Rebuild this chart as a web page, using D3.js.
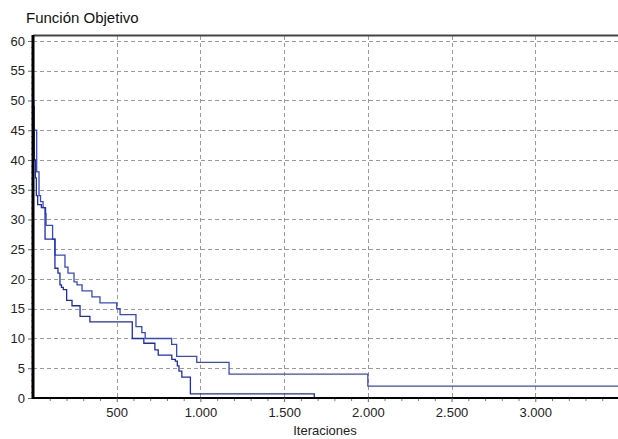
<!DOCTYPE html>
<html>
<head>
<meta charset="utf-8">
<script src="https://cdn.jsdelivr.net/npm/d3@7"></script>
<style>
  body { margin: 0; background: #fff; }
  svg { display: block; font-family: "Liberation Sans", Arial, sans-serif; }
</style>
</head>
<body>
<svg id="chart" width="618" height="439"></svg>
<script>
// [iteracion, valor] pairs
const serieA = [[0,54],[3,49],[8,45],[22,38],[36,34],[45,33],[60,32],[75,31],[78,29],[117,26.7],[131,24],[191,22],[209,21],[245,19.5],[263,19],[293,18],[352,17],[400,16],[500,15],[520,14],[615,12],[650,11],[670,10],[828,9],[858,7],[978,6],[1171,4],[2000,2],[3600,2]];
const serieB = [[0,50],[4,45],[8,40],[14,37],[20,34],[28,32.5],[50,32],[72,26.7],[131,21.8],[149,21],[161,19],[170,18.6],[181,18.2],[201,16.4],[233,15.5],[281,13.7],[340,12.8],[593,10],[662,9.2],[728,8.1],[748,7.2],[829,6.5],[850,6.2],[862,5.4],[872,4.5],[889,3.5],[940,0.7],[1680,0]];
const yTicks = [0,5,10,15,20,25,30,35,40,45,50,55,60];
const xTicks = [500,1000,1500,2000,2500,3000];

const svg = d3.select("#chart");

const x = d3.scaleLinear().domain([0, 3500]).range([33, 619]);
const y = d3.scaleLinear().domain([0, 61]).range([398, 35]);

const fmt = v => d3.format(",")(v).replace(/,/g, ".");

// grid lines
svg.append("g")
    .selectAll("line")
    .data(yTicks)
    .join("line")
    .attr("x1", 33).attr("x2", 618)
    .attr("y1", d => Math.round(y(d)) + 0.5)
    .attr("y2", d => Math.round(y(d)) + 0.5)
    .attr("stroke", "#9a9a9a")
    .attr("stroke-dasharray", "4,3");

svg.append("g")
    .selectAll("line")
    .data(xTicks)
    .join("line")
    .attr("x1", d => Math.round(x(d)) + 0.5)
    .attr("x2", d => Math.round(x(d)) + 0.5)
    .attr("y1", 36).attr("y2", 398)
    .attr("stroke", "#9a9a9a")
    .attr("stroke-dasharray", "4,3");

// top border
svg.append("line")
    .attr("x1", 33).attr("x2", 618)
    .attr("y1", 35.5).attr("y2", 35.5)
    .attr("stroke", "#444")
    .attr("stroke-width", 2);

// step lines
const line = d3.line()
    .x(d => x(d[0]))
    .y(d => y(d[1]))
    .curve(d3.curveStepAfter);

svg.append("path")
    .datum(serieA)
    .attr("d", line)
    .attr("fill", "none")
    .attr("stroke", "#3848c4")
    .attr("stroke-width", 1.3);

svg.append("path")
    .datum(serieB)
    .attr("d", line)
    .attr("fill", "none")
    .attr("stroke", "#1c2db0")
    .attr("stroke-width", 1.3);

// y axis
const yAxis = svg.append("g")
    .attr("transform", "translate(33,0)")
    .call(d3.axisLeft(y).tickValues(yTicks).tickSize(5).tickPadding(3));
yAxis.select(".domain").remove();
yAxis.selectAll("text").attr("font-size", 13).attr("font-family", "Liberation Sans, Arial, sans-serif").attr("fill", "#222");
yAxis.selectAll("line").attr("stroke", "#666");

svg.append("g")
    .attr("transform", "translate(33,0)")
    .call(d3.axisLeft(y).tickValues(d3.range(0, 61, 1).filter(v => v % 5)).tickSize(2).tickFormat(""))
    .call(g => g.select(".domain").remove())
    .selectAll("line").attr("stroke", "#888");

svg.append("line")
    .attr("x1", 33).attr("x2", 33)
    .attr("y1", 35).attr("y2", 399)
    .attr("stroke", "#000")
    .attr("stroke-width", 3);

// x axis
svg.append("g")
    .attr("transform", "translate(0,398)")
    .call(d3.axisBottom(x).tickValues(d3.range(100, 3500, 100).filter(v => v % 500)).tickSize(3).tickFormat(""))
    .call(g => g.select(".domain").remove())
    .selectAll("line").attr("stroke", "#777");

svg.append("line")
    .attr("x1", 33).attr("x2", 618)
    .attr("y1", 398).attr("y2", 398)
    .attr("stroke", "#000")
    .attr("stroke-width", 2);

const xAxis = svg.append("g")
    .attr("transform", "translate(0,398)")
    .call(d3.axisBottom(x).tickValues(xTicks).tickSize(4).tickPadding(6).tickFormat(fmt));
xAxis.select(".domain").remove();
xAxis.selectAll("text").attr("font-size", 13).attr("font-family", "Liberation Sans, Arial, sans-serif").attr("fill", "#222");
xAxis.selectAll("line").attr("stroke", "#666");

// titles
svg.append("text")
    .attr("x", 26).attr("y", 23)
    .attr("font-size", 15)
    .attr("fill", "#111")
    .text("Función Objetivo");

svg.append("text")
    .attr("x", 325).attr("y", 435)
    .attr("text-anchor", "middle")
    .attr("font-size", 13)
    .attr("fill", "#222")
    .text("Iteraciones");
</script>
</body>
</html>
